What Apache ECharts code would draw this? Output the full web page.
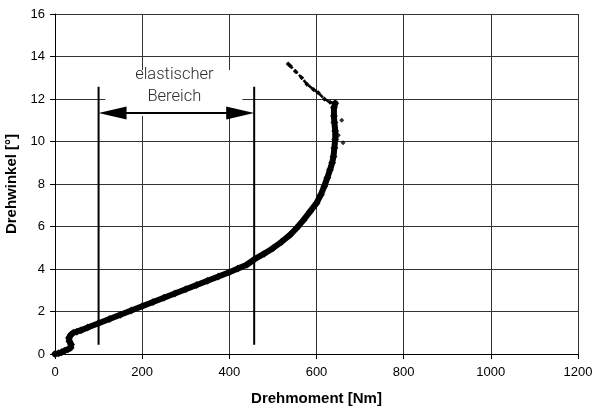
<!DOCTYPE html>
<html>
<head>
<meta charset="utf-8">
<script src="https://cdn.jsdelivr.net/npm/echarts@6/dist/echarts.min.js"></script>
<style>
html,body{margin:0;padding:0;background:#fff;}
#chart{width:592px;height:410px;}
</style>
</head>
<body>
<div id="chart"></div>
<script>
// Measured curve: torque [Nm] vs. twist angle [°]
const torqueMain = [0, 8, 15, 22, 30, 36, 37, 33, 32, 36, 42, 50, 60, 75, 100, 125, 150, 175, 200, 225, 250, 275, 300, 325, 350, 375, 400, 420, 440, 457, 480, 500, 520, 540, 555, 570, 585, 600, 610, 618, 625, 631, 636, 639, 641, 643, 643, 641, 640, 640, 643];
const angleMain  = [0, 0.03, 0.08, 0.15, 0.22, 0.3, 0.45, 0.6, 0.75, 0.9, 1.0, 1.05, 1.12, 1.25, 1.45, 1.65, 1.85, 2.05, 2.25, 2.45, 2.65, 2.85, 3.05, 3.25, 3.45, 3.65, 3.85, 4.02, 4.2, 4.45, 4.72, 4.98, 5.28, 5.62, 5.94, 6.3, 6.7, 7.1, 7.5, 7.9, 8.3, 8.67, 9.0, 9.3, 9.7, 10.1, 10.5, 10.9, 11.2, 11.6, 11.8];
const torqueReturn = [643, 631, 618, 604, 593, 578, 566, 552, 540, 535];
const angleReturn  = [11.8, 11.85, 12.0, 12.3, 12.45, 12.7, 13.0, 13.3, 13.55, 13.65];
const torqueOutlier = [661, 658, 650];
const angleOutlier  = [9.94, 11.0, 10.3];
const xTicks = [0, 200, 400, 600, 800, 1000, 1200];
const yTicks = [0, 2, 4, 6, 8, 10, 12, 14, 16];
const elasticRange = [100, 457];
const markerSpan = [0.44, 12.58];
const arrowAngle = 11.34;
const annotationText = ['elastischer', 'Bereich'];
const xName = 'Drehmoment [Nm]';
const yName = 'Drehwinkel [°]';

const zip = (a, b) => a.map((v, i) => [v, b[i]]);
const mainData = zip(torqueMain, angleMain);
const returnData = zip(torqueReturn, angleReturn);
const outlierData = zip(torqueOutlier, angleOutlier);

const chart = echarts.init(document.getElementById('chart'), null, {renderer: 'canvas'});

const option = {
  backgroundColor: '#fff',
  animation: false,
  grid: {left: 55, right: 14, top: 14, bottom: 56, containLabel: false, outerBoundsMode: 'none'},
  xAxis: {
    type: 'value', min: xTicks[0], max: xTicks[xTicks.length - 1], interval: xTicks[1] - xTicks[0],
    name: xName, nameLocation: 'middle', nameGap: 37,
    nameTextStyle: {fontFamily: 'Liberation Sans, Arial', fontWeight: 'bold', fontSize: 15, color: '#000'},
    axisLine: {show: true, lineStyle: {color: '#000', width: 1}},
    axisTick: {show: true, length: 5, lineStyle: {color: '#000'}},
    axisLabel: {margin: 12, fontFamily: 'Liberation Sans, Arial', fontSize: 13, color: '#000', formatter: v => String(v), hideOverlap: false},
    splitLine: {show: true, lineStyle: {color: '#333', width: 1}}
  },
  yAxis: {
    type: 'value', min: yTicks[0], max: yTicks[yTicks.length - 1], interval: yTicks[1] - yTicks[0],
    name: yName, nameLocation: 'middle', nameGap: 36, nameRotate: 90,
    nameTextStyle: {fontFamily: 'Liberation Sans, Arial', fontWeight: 'bold', fontSize: 15, color: '#000'},
    axisLine: {show: true, lineStyle: {color: '#000', width: 1}},
    axisTick: {show: true, length: 5, lineStyle: {color: '#000'}},
    axisLabel: {margin: 10, fontFamily: 'Liberation Sans, Arial', fontSize: 13, color: '#000', formatter: v => String(v)},
    splitLine: {show: true, lineStyle: {color: '#333', width: 1}}
  },
  series: [
    {
      type: 'custom',
      coordinateSystem: 'cartesian2d',
      data: [[elasticRange[0], arrowAngle]],
      z: 3,
      silent: true,
      renderItem: function (params, api) {
        const l0 = api.coord([elasticRange[0], markerSpan[0]]);
        const l1 = api.coord([elasticRange[0], markerSpan[1]]);
        const r0 = api.coord([elasticRange[1], markerSpan[0]]);
        const r1 = api.coord([elasticRange[1], markerSpan[1]]);
        const aL = api.coord([elasticRange[0], arrowAngle]);
        const aR = api.coord([elasticRange[1], arrowAngle]);
        const cx = (aL[0] + aR[0]) / 2 - 2;
        const ay = aL[1];
        const headLen = 28, headHalf = 6.5;
        return {
          type: 'group',
          children: [
            {type: 'rect', shape: {x: cx - 69, y: ay - 43, width: 137, height: 46}, style: {fill: '#fff'}},
            {type: 'text', style: {text: annotationText.join('\n'), x: cx, y: ay - 27, align: 'center', verticalAlign: 'middle',
              font: '300 16.5px Roboto, "Liberation Sans", sans-serif', fill: '#2a2a2a', lineHeight: 22}},
            {type: 'line', shape: {x1: l0[0], y1: l0[1], x2: l1[0], y2: l1[1]}, style: {stroke: '#000', lineWidth: 2}},
            {type: 'line', shape: {x1: r0[0], y1: r0[1], x2: r1[0], y2: r1[1]}, style: {stroke: '#000', lineWidth: 2}},
            {type: 'line', shape: {x1: aL[0] + headLen - 2, y1: ay, x2: aR[0] - headLen + 2, y2: ay}, style: {stroke: '#000', lineWidth: 2}},
            {type: 'polygon', shape: {points: [[aL[0], ay], [aL[0] + headLen, ay - headHalf], [aL[0] + headLen, ay + headHalf]]}, style: {fill: '#000'}},
            {type: 'polygon', shape: {points: [[aR[0], ay], [aR[0] - headLen, ay - headHalf], [aR[0] - headLen, ay + headHalf]]}, style: {fill: '#000'}}
          ]
        };
      }
    },
    {
      type: 'line', data: mainData, showSymbol: false, smooth: false, z: 4,
      lineStyle: {color: '#000', width: 6, cap: 'round', join: 'round'}
    },
    {
      type: 'scatter', data: mainData, symbol: 'diamond', symbolSize: 8, z: 4,
      itemStyle: {color: '#000'}
    },
    {
      type: 'line', data: returnData, showSymbol: true, symbol: 'diamond', symbolSize: 5, z: 4,
      lineStyle: {color: '#000', width: 2.5, type: [5, 2]},
      itemStyle: {color: '#000'}
    },
    {
      type: 'scatter', data: outlierData, symbol: 'diamond', symbolSize: 5, z: 4,
      itemStyle: {color: '#000'}
    }
  ]
};
chart.setOption(option);
</script>
</body>
</html>
